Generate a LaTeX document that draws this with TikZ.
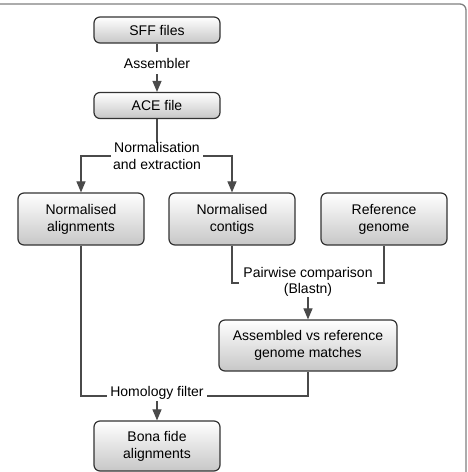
\documentclass[tikz,border=0pt]{standalone}
\usepackage{fontspec}
\setmainfont{Liberation Sans}
\usetikzlibrary{arrows.meta,shadings}
\definecolor{boxline}{HTML}{333333}
\definecolor{conn}{HTML}{4A4A4A}
\definecolor{framec}{HTML}{808080}
\begin{document}
\begin{tikzpicture}[x=1pt,y=-1pt,
  flowbox/.style={draw=boxline, line width=1.2pt, rounded corners=6pt,
    top color=white, bottom color=black!22, align=center,
    font=\fontsize{14pt}{17pt}\selectfont, inner sep=0pt},
  small/.style={flowbox, minimum width=126pt, minimum height=26pt},
  tall/.style={flowbox, minimum width=126pt, minimum height=52pt},
  lbl/.style={fill=white, align=center, inner xsep=2pt, inner ysep=1pt,
    font=\fontsize{14pt}{16.5pt}\selectfont},
  conn/.style={draw=conn, line width=1.1pt},
  arr/.style={conn, -{Triangle[width=9pt,length=11pt]}},
]
\useasboundingbox (0,0) rectangle (468,472);
\draw[framec, line width=1.3pt, rounded corners=6pt] (-10,4) rectangle (466,490);

\node[small] (sff) at (157,30) {SFF files};
\node[small] (ace) at (157,105.5) {ACE file};
\node[tall] (al) at (81,219) {Normalised\\alignments};
\node[tall] (co) at (232,219) {Normalised\\contigs};
\node[tall] (rg) at (384,219) {Reference\\genome};
\node[flowbox, minimum width=178pt, minimum height=51pt] (as) at (308,345.5) {Assembled vs reference\\genome matches};
\node[tall, minimum height=50pt] (bf) at (157,446) {Bona fide\\alignments};

\coordinate (j1) at (157,156);
\coordinate (j2) at (308,283);
\coordinate (j3) at (157,396);

\draw[arr] (sff) -- (ace);
\node[lbl, inner ysep=6pt] (l1) at (157,63) {Assembler};

\draw[conn] (ace) -- (j1);
\draw[arr] (j1) -| (al);
\draw[arr] (j1) -| (co);
\node[lbl, inner ysep=0pt] (l2) at (157,156) {Normalisation\\and extraction};

\draw[conn] (co) |- (j2) -| (rg);
\draw[arr] (j2) -- (as);
\node[lbl, inner ysep=0pt, inner xsep=4pt] (l3) at (308,282) {Pairwise comparison\\(Blastn)};

\draw[conn] (al) |- (j3) -| (as);
\draw[arr] (j3) -- (bf);
\node[lbl, inner ysep=1pt, inner xsep=3pt] (l4) at (157,393) {Homology filter};
\end{tikzpicture}
\end{document}
